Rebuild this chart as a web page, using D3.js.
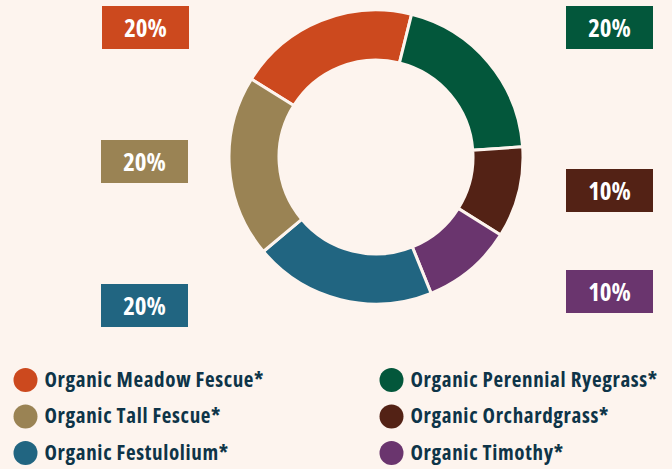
<!DOCTYPE html>
<html>
<head>
<meta charset="utf-8">
<script src="https://cdn.jsdelivr.net/npm/d3@7"></script>
<style>
  html, body { margin: 0; padding: 0; background: #fdf4ee; }
  svg { display: block; }
  text { font-family: "Open Sans", "Noto Sans", sans-serif; font-weight: bold; font-stretch: 75%; }
</style>
</head>
<body>
<div id="chart"></div>
<script>
// data, clockwise from the top-left slice
var names = ["Organic Meadow Fescue*", "Organic Perennial Ryegrass*", "Organic Orchardgrass*",
             "Organic Timothy*", "Organic Festulolium*", "Organic Tall Fescue*"];
var shares = [20, 20, 10, 10, 20, 20];
var colors = ["#cc491e", "#03573b", "#532215", "#6a356e", "#216581", "#9a8354"];

// legend order (two columns, three rows)
var legendOrder = [0, 1, 5, 2, 4, 3];

var width = 672;
var height = 469;
var cx = 376, cy = 157;
var outerR = 147, innerR = 97;
var bg = "#fdf4ee";

// where each label box sits (left column / right column)
var labelBoxes = [
  {x: 102, y: 6}, {x: 566, y: 6}, {x: 566, y: 169},
  {x: 566, y: 270}, {x: 101, y: 284}, {x: 101, y: 140}
];
var boxW = 87, boxH = 43;

var svg = d3.select("#chart").append("svg")
    .attr("width", width)
    .attr("height", height);

var pie = d3.pie()
    .sort(null)
    .value(d => d)
    .startAngle(-58 * Math.PI / 180)
    .endAngle(302 * Math.PI / 180);

var arc = d3.arc()
    .innerRadius(innerR)
    .outerRadius(outerR);

var g = svg.append("g").attr("transform", `translate(${cx},${cy})`);

g.selectAll("path")
    .data(pie(shares))
    .join("path")
    .attr("d", arc)
    .attr("fill", (d, i) => colors[i])
    .attr("stroke", bg)
    .attr("stroke-width", 3);

// squeeze text horizontally so the widest one fits the given width
function fitX(sel, maxW) {
    var w = d3.max(sel.nodes(), n => n.getComputedTextLength());
    var k = Math.min(1, maxW / w);
    sel.attr("transform", `scale(${k},1)`)
       .attr("x", function() { return +d3.select(this).attr("x") / k; });
}

// percentage boxes
var lab = svg.append("g").selectAll("g")
    .data(shares)
    .join("g")
    .attr("transform", (d, i) => `translate(${labelBoxes[i].x},${labelBoxes[i].y})`);

lab.append("rect")
    .attr("width", boxW)
    .attr("height", boxH)
    .attr("fill", (d, i) => colors[i]);

var pct = lab.append("text")
    .attr("x", boxW / 2)
    .attr("y", boxH / 2 + 9.5)
    .attr("text-anchor", "middle")
    .attr("fill", "#ffffff")
    .attr("font-size", 25)
    .text(d => d + "%");
fitX(pct, 43);

// legend
var leg = svg.append("g").selectAll("g")
    .data(legendOrder)
    .join("g")
    .attr("transform", (d, k) => `translate(${k % 2 ? 391.5 : 25.5},${380 + Math.floor(k / 2) * 36.5})`);

leg.append("circle")
    .attr("r", 12)
    .attr("fill", d => colors[d]);

var legText = leg.append("text")
    .attr("x", 19)
    .attr("y", 6.5)
    .attr("fill", "#0e3448")
    .attr("font-size", 21)
    .attr("letter-spacing", 0.65)
    .text(d => names[d]);
fitX(legText, 248);
</script>
</body>
</html>
